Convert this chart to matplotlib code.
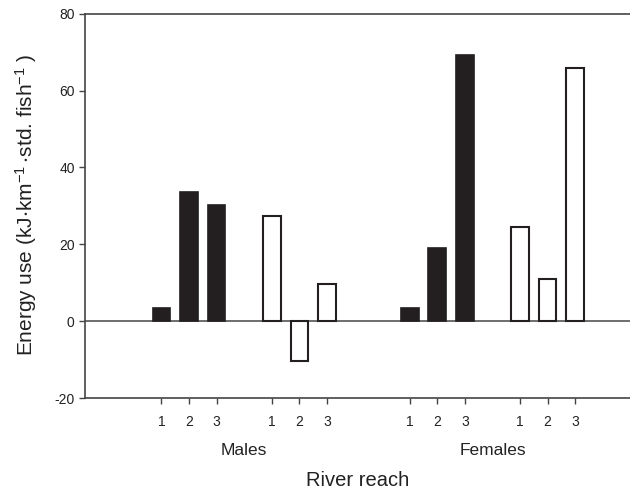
import matplotlib
matplotlib.use("Agg")
from matplotlib import pyplot as plt

# values
reaches = ["1", "2", "3"]
males_filled = [3.3, 33.5, 30.3]
males_open = [27.4, -10.3, 9.7]
females_filled = [3.5, 19.0, 69.4]
females_open = [24.5, 11.0, 65.8]
groups = ["Males", "Females"]

plt.rcParams['font.family'] = ['Liberation Sans', 'DejaVu Sans']
plt.rcParams['axes.unicode_minus'] = False
plt.rcParams['mathtext.default'] = 'regular'

fig = plt.figure(figsize=(6.3, 4.92), dpi=100)
ax = fig.add_axes([0.135, 0.191, 0.87, 0.781])

dark = "#231f20"
edge = "#231f20"
w = 0.64

pos_mf = [1, 2, 3]
pos_mo = [5, 6, 7]
pos_ff = [10, 11, 12]
pos_fo = [14, 15, 16]

ax.bar(pos_mf, males_filled, w, color=dark, edgecolor=dark, lw=1.2, zorder=3)
ax.bar(pos_mo, males_open, w, color="white", edgecolor=edge, lw=1.5, zorder=3)
ax.bar(pos_ff, females_filled, w, color=dark, edgecolor=dark, lw=1.2, zorder=3)
ax.bar(pos_fo, females_open, w, color="white", edgecolor=edge, lw=1.5, zorder=3)

ax.axhline(0, color="#555555", lw=1.2, zorder=2)

ax.set_xlim(-1.77, 18.1)
ax.set_ylim(-20, 80)
ax.set_yticks([-20, 0, 20, 40, 60, 80])

ax.set_xticks(pos_mf + pos_mo + pos_ff + pos_fo)
ax.set_xticklabels(reaches * 4)

ax.spines["right"].set_visible(False)
for s in ["left", "top", "bottom"]:
    ax.spines[s].set_color("#444444")
    ax.spines[s].set_linewidth(1.2)

ax.tick_params(axis="both", direction="out", length=4, width=1, color="#444444",
               labelsize=10, labelcolor="#222222")
ax.tick_params(axis="x", pad=8)

ax.text(4, -33.6, groups[0], ha="center", va="center", fontsize=12.5,
        color="#222222")
ax.text(13, -33.6, groups[1], ha="center", va="center", fontsize=12.5,
        color="#222222")

fig.text(358 / 630, 1 - 480 / 492, "River reach", ha="center", va="center",
         fontsize=14.5, color="#222222")
fig.text(26 / 630, 1 - 205 / 492,
         "Energy use (kJ$\\cdot$km$^{-1}\\,$$\\cdot$std. fish$^{-1}$ )",
         rotation=90, ha="center", va="center", fontsize=15, color="#222222")

fig.savefig("out.png", dpi=100)
